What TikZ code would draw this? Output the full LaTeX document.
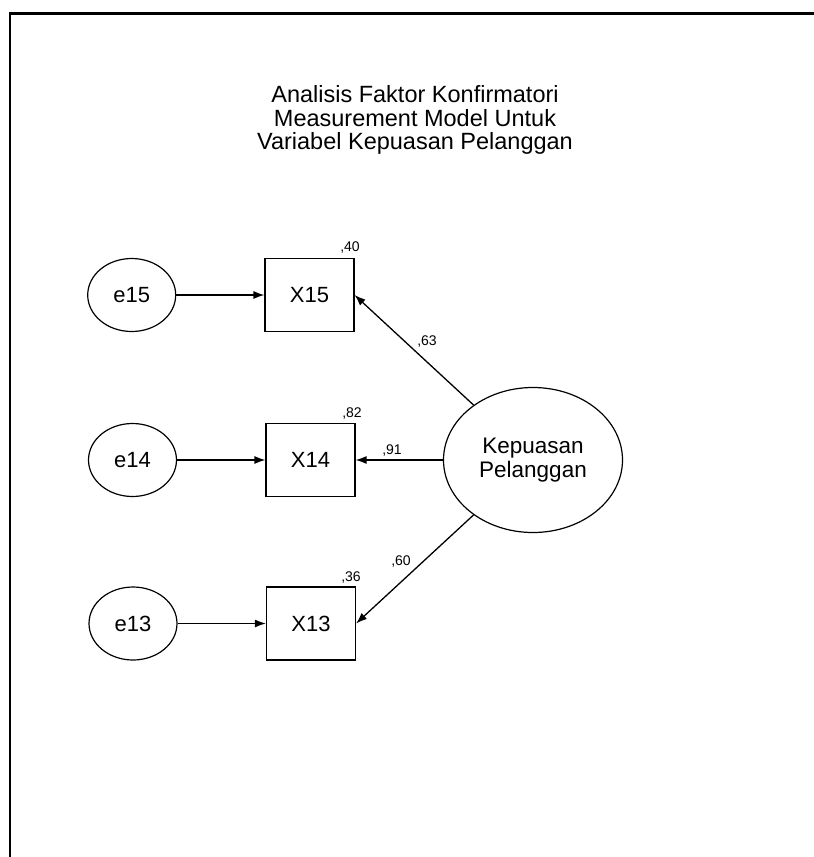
\documentclass[tikz,border=0pt]{standalone}
\usepackage{fontspec}
\setmainfont{Liberation Sans}
\usetikzlibrary{shapes.geometric,arrows.meta}
\begin{document}
\begin{tikzpicture}[x=1pt,y=-1pt,
  errvar/.style={ellipse,draw,line width=1.2pt,minimum width=88pt,minimum height=73pt,inner sep=0pt,font=\fontsize{22}{22}\selectfont},
  obsvar/.style={rectangle,draw,line width=1.2pt,minimum width=89pt,minimum height=73pt,inner sep=0pt,font=\fontsize{22}{22}\selectfont},
  latvar/.style={ellipse,draw,line width=1.2pt,minimum width=179pt,minimum height=145pt,inner sep=0pt,align=center,font=\fontsize{22.5}{23.5}\selectfont},
  coef/.style={inner sep=0pt,font=\fontsize{14}{14}\selectfont},
  arr/.style={line width=1.3pt,-{Latex[length=11pt,width=8pt]}}]
\useasboundingbox (0,0) rectangle (814,857);
\draw[line width=2.5pt] (10,857) -- (10,13.5) -- (814,13.5);
\node[align=center,font=\fontsize{23.5}{23.5}\selectfont] (title) at (415,120)
  {Analisis Faktor Konfirmatori\\Measurement Model Untuk\\Variabel Kepuasan Pelanggan};
\node[errvar] (e15) at (131.7,295) {e15};
\node[errvar] (e14) at (132.5,460) {e14};
\node[errvar] (e13) at (133,623.5) {e13};
\node[obsvar] (X15) at (309.5,295) {X15};
\node[obsvar] (X14) at (310.5,460) {X14};
\node[obsvar] (X13) at (311,623.5) {X13};
\node[latvar] (K) at (533,460) {Kepuasan\\Pelanggan};
\draw[arr] (e15) -- (X15);
\draw[arr] (e14) -- (X14);
\draw[arr] (e13) -- (X13);
\draw[arr] (K) -- (X15.east);
\draw[arr] (K) -- (X14.east);
\draw[arr] (K) -- (X13.east);
\node[coef] (r15) at (350,248) {,40};
\node[coef] (r14) at (352,414) {,82};
\node[coef] (r13) at (351,577) {,36};
\node[coef] (l15) at (427,342) {,63};
\node[coef] (l14) at (392,451) {,91};
\node[coef] (l13) at (401,561) {,60};
\end{tikzpicture}
\end{document}
